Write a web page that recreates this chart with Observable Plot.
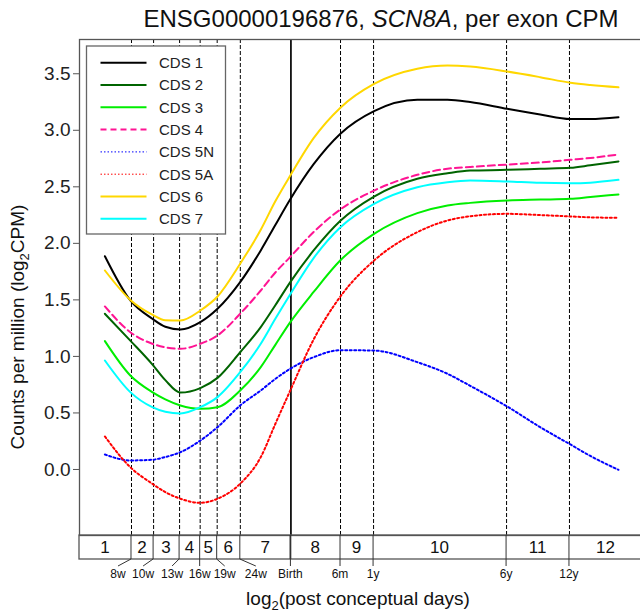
<!DOCTYPE html>
<html><head><meta charset="utf-8">
<script src="https://cdn.jsdelivr.net/npm/d3@7"></script>
<script src="https://cdn.jsdelivr.net/npm/@observablehq/plot@0.6"></script>
<style>
body{margin:0;background:#fff;overflow:hidden}
#chart{width:640px;height:615px;overflow:hidden;position:relative}
</style>
</head><body><div id="chart"></div>
<script>
// ---- data ----
const seriesNames = ["CDS 1","CDS 2","CDS 3","CDS 4","CDS 5N","CDS 5A","CDS 6","CDS 7"];
const seriesColors = ["#000000","#006400","#00ee00","#ff1493","#0000ff","#ff0000","#ffd700","#00ffff"];
const seriesDash = [null,null,null,"7,4","2,2.5","2,2.5",null,null];
const legendDash = [null,null,null,"6,4","1.5,2","1.5,2",null,null];
const seriesWidth = [2,2,2,2,2,2,2,2];
const legendWidth = [2,2,2,2,1,1,2,2];

// x: log2(post conceptual days)
const xLog2Days = [5.42,5.79,6.11,6.30,6.52,6.81,7.06,7.39,7.69,7.90,8.12,8.46,8.85,9.34,9.97,10.41,10.74,11.28,11.76,12.20,12.49,12.90];

const cds1  = [1.886,1.495,1.333,1.262,1.238,1.303,1.421,1.657,1.937,2.16,2.39,2.70,2.97,3.17,3.27,3.27,3.25,3.19,3.14,3.10,3.10,3.116];
const cds2  = [1.377,1.14,0.93,0.79,0.68,0.72,0.81,1.037,1.259,1.45,1.657,1.937,2.20,2.414,2.571,2.62,2.644,2.65,2.66,2.668,2.69,2.724];
const cds3  = [1.135,0.831,0.684,0.62,0.566,0.537,0.551,0.699,0.905,1.10,1.303,1.57,1.85,2.084,2.267,2.335,2.358,2.379,2.387,2.394,2.41,2.432];
const cds4  = [1.442,1.214,1.112,1.08,1.067,1.112,1.185,1.377,1.583,1.74,1.88,2.10,2.30,2.467,2.606,2.66,2.675,2.697,2.715,2.739,2.755,2.786];
const cds5N = [0.133,0.08,0.086,0.11,0.153,0.256,0.374,0.566,0.699,0.80,0.891,0.993,1.055,1.052,0.949,0.846,0.74,0.557,0.374,0.221,0.12,-0.003];
const cds5A = [0.292,0.02,-0.126,-0.20,-0.259,-0.295,-0.259,-0.126,0.109,0.40,0.699,1.15,1.53,1.848,2.099,2.202,2.24,2.261,2.25,2.238,2.23,2.226];
const cds6  = [1.76,1.50,1.37,1.32,1.318,1.406,1.53,1.82,2.12,2.37,2.60,2.93,3.20,3.41,3.544,3.573,3.564,3.52,3.47,3.42,3.40,3.38];
const cds7  = [0.964,0.684,0.551,0.51,0.495,0.551,0.64,0.86,1.112,1.33,1.55,1.87,2.143,2.35,2.497,2.541,2.556,2.547,2.535,2.532,2.537,2.562];
const seriesValues = [cds1,cds2,cds3,cds4,cds5N,cds5A,cds6,cds7];

// stage boundaries (post conceptual days) and labels
const boundaryDays = [56,70,91,112,133,168,280,462,645,2470,4660];
const boundaryLabels = ["8w","10w","13w","16w","19w","24w","Birth","6m","1y","6y","12y"];
const stageLabels = ["1","2","3","4","5","6","7","8","9","10","11","12"];
const yTicks = [0,0.5,1,1.5,2,2.5,3,3.5];

// ---- layout ----
const FONT = "'Liberation Sans', Arial, Helvetica, sans-serif";
const xDomain = [5.05, 13.25];
const yDomain = [-0.584, 3.803];
const labelShift = [-13,-10,-7,0,8,16,0,0,0,0,0];
const birthIndex = boundaryLabels.indexOf("Birth");

const boundaries = boundaryDays.map(d => Math.log2(d));
const rows = seriesNames.flatMap((s, i) => xLog2Days.map((x, j) => ({series: s, x, y: seriesValues[i][j]})));

const marks = [
  Plot.ruleX(boundaries.filter((b, i) => i !== birthIndex), {stroke: "#000", strokeWidth: 1, strokeDasharray: "4,2"}),
  Plot.ruleX([boundaries[birthIndex]], {stroke: "#111", strokeWidth: 1.8}),
  ...seriesNames.map((s, i) => Plot.line(rows.filter(r => r.series === s), {
    x: "x", y: "y", stroke: seriesColors[i], strokeWidth: seriesWidth[i],
    strokeDasharray: seriesDash[i], curve: "monotone-x"
  })),
  Plot.frame({stroke: "#555", strokeWidth: 1.3}),
  Plot.axisY({ticks: yTicks, tickFormat: d3.format(".1f"), tickSize: 6, tickPadding: 3, label: null, stroke: "#555", fill: "#222"})
];

const plot = Plot.plot({
  width: 642, height: 615,
  marginLeft: 79, marginRight: 0, marginTop: 39, marginBottom: 80,
  x: {domain: xDomain, axis: null},
  y: {domain: yDomain},
  style: {fontSize: "19px", fontFamily: FONT, maxWidth: "none", overflow: "visible", background: "white"},
  marks
});
document.getElementById("chart").appendChild(plot);

const xs = plot.scale("x"), ys = plot.scale("y");
const X = v => xs.apply(v);
const svg = d3.select(plot);
const frameBottom = ys.apply(yDomain[0]);
const frameLeft = X(xDomain[0]);
const frameRight = X(xDomain[1]);
const panelH = 24, tickLen = 7;
const panelBottom = frameBottom + panelH;

// stage panel
const g = svg.append("g").attr("font-family", FONT);
g.append("rect").attr("x", frameLeft).attr("y", frameBottom).attr("width", frameRight - frameLeft).attr("height", panelH)
  .attr("fill", "none").attr("stroke", "#555").attr("stroke-width", 1.3);
boundaries.forEach((b, i) => {
  const bx = X(b);
  g.append("line").attr("x1", bx).attr("x2", bx).attr("y1", frameBottom).attr("y2", panelBottom)
    .attr("stroke", "#333").attr("stroke-width", i === birthIndex ? 1.8 : 1);
  g.append("line").attr("x1", bx).attr("x2", bx + labelShift[i]).attr("y1", panelBottom).attr("y2", panelBottom + tickLen)
    .attr("stroke", "#333").attr("stroke-width", 1);
  g.append("text").attr("x", bx + labelShift[i]).attr("y", panelBottom + 19).attr("text-anchor", "middle")
    .attr("font-size", 12).attr("fill", "#111").text(boundaryLabels[i]);
});
const edges = [xDomain[0], ...boundaries, xDomain[1]];
stageLabels.forEach((s, i) => {
  g.append("text").attr("x", X((edges[i] + edges[i + 1]) / 2)).attr("y", frameBottom + panelH / 2)
    .attr("dy", "0.36em").attr("text-anchor", "middle").attr("font-size", 17).attr("fill", "#111").text(s);
});

// legend
const lg = svg.append("g").attr("font-family", FONT);
const lgX = 86.5, lgY = 46, lgW = 139, lgRow = 22.3;
lg.append("rect").attr("x", lgX).attr("y", lgY).attr("width", lgW).attr("height", 188)
  .attr("fill", "white").attr("stroke", "#666").attr("stroke-width", 1.3);
seriesNames.forEach((s, i) => {
  const yy = lgY + 16.7 + i * lgRow;
  lg.append("line").attr("x1", lgX + 14).attr("x2", lgX + 60).attr("y1", yy).attr("y2", yy)
    .attr("stroke", seriesColors[i]).attr("stroke-width", legendWidth[i])
    .attr("stroke-dasharray", legendDash[i]);
  lg.append("text").attr("x", lgX + 72.5).attr("y", yy).attr("dy", "0.36em").attr("font-size", 15)
    .attr("text-anchor", "start").attr("fill", "#222").text(s);
});

// title
const t = svg.append("text").attr("x", 381).attr("y", 27).attr("text-anchor", "middle")
  .attr("font-family", FONT).attr("font-size", 24).attr("fill", "#111");
t.append("tspan").text("ENSG00000196876, ");
t.append("tspan").attr("font-style", "italic").text("SCN8A");
t.append("tspan").text(", per exon CPM");

// x label
const xl = svg.append("text").attr("x", (frameLeft + 637) / 2).attr("y", 605).attr("text-anchor", "middle")
  .attr("font-family", FONT).attr("font-size", 19).attr("fill", "#111");
xl.append("tspan").text("log");
xl.append("tspan").attr("font-size", 13).attr("dy", 5).text("2");
xl.append("tspan").attr("dy", -5).text("(post conceptual days)");

// y label
const yl = svg.append("text").attr("transform", "translate(24,327) rotate(-90)").attr("text-anchor", "middle")
  .attr("font-family", FONT).attr("font-size", 19).attr("fill", "#111");
yl.append("tspan").text("Counts per million (log");
yl.append("tspan").attr("font-size", 13).attr("dy", 5).text("2");
yl.append("tspan").attr("dy", -5).text("CPM)");
</script></body></html>
